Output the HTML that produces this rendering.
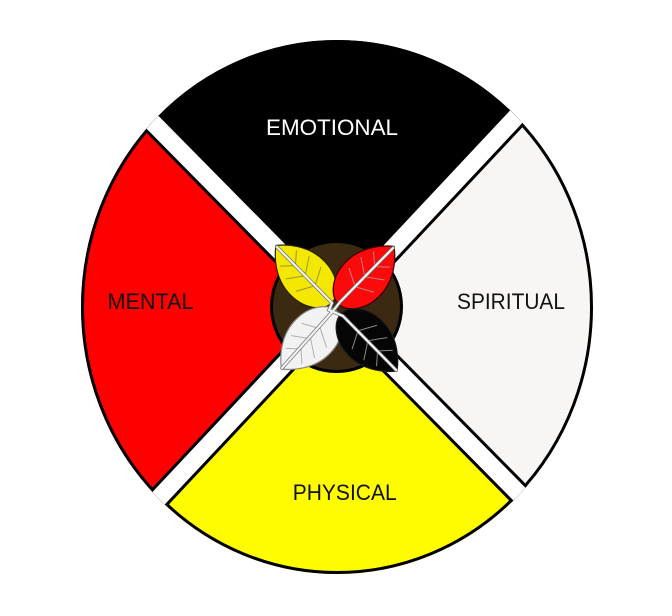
<!DOCTYPE html>
<html>
<head>
<meta charset="utf-8">
<style>
  html, body { margin: 0; padding: 0; background: #ffffff; overflow: hidden; }
  body { width: 672px; height: 616px; overflow: hidden; }
  svg { display: block; overflow: hidden; }
  text { font-family: "Liberation Sans", "DejaVu Sans", sans-serif; font-size: 22px; }
</style>
</head>
<body>
<svg width="672" height="616" viewBox="0 0 672 616" xmlns="http://www.w3.org/2000/svg">
  <defs>
    <clipPath id="wheel">
      <ellipse cx="337" cy="307" rx="256" ry="267"/>
    </clipPath>
    <g id="veins">
      <path d="M0,28 L-11,18 M0,42 L-16,31 M0,56 L-17,47 M0,28 L11,18 M0,42 L16,31 M0,56 L17,47" fill="none" stroke-width="1" stroke-linecap="round"/>
    </g>
  </defs>

  <rect width="672" height="616" fill="#ffffff"/>

  <!-- Quadrant fills -->
  <g clip-path="url(#wheel)">
    <polygon points="336.5,308.5 60,28.5 60,0 612,0 612,14.5" fill="#000000"/>
    <polygon points="336.5,308.5 60,28.5 60,603.5" fill="#fe0000"/>
    <polygon points="336.5,308.5 60,603.5 60,612 612,612 612,588" fill="#fffc00"/>
    <polygon points="336.5,308.5 612,588 612,14.5" fill="#f7f6f4"/>
  </g>
  <!-- Outer outline -->
  <ellipse cx="337" cy="307" rx="254.5" ry="265.5" fill="none" stroke="#000" stroke-width="3"/>

  <!-- Diagonal gap bands -->
  <g clip-path="url(#wheel)">
    <line x1="60" y1="28.5" x2="612" y2="588" stroke="#000" stroke-width="23.5"/>
    <line x1="612" y1="14.5" x2="70" y2="592.8" stroke="#000" stroke-width="23.5"/>
    <line x1="60" y1="28.5" x2="612" y2="588" stroke="#ffffff" stroke-width="17.5"/>
    <line x1="612" y1="14.5" x2="70" y2="592.8" stroke="#ffffff" stroke-width="17.5"/>
  </g>

  <!-- Labels -->
  <text x="332" y="135" text-anchor="middle" fill="#ffffff" textLength="132" lengthAdjust="spacingAndGlyphs">EMOTIONAL</text>
  <text x="150.5" y="309" text-anchor="middle" fill="#111111" textLength="86" lengthAdjust="spacingAndGlyphs">MENTAL</text>
  <text x="511" y="309" text-anchor="middle" fill="#111111" textLength="108" lengthAdjust="spacingAndGlyphs">SPIRITUAL</text>
  <text x="344.7" y="500" text-anchor="middle" fill="#111111" textLength="104" lengthAdjust="spacingAndGlyphs">PHYSICAL</text>

  <!-- Central circle -->
  <circle cx="336.5" cy="306.5" r="65" fill="#3b2a11" stroke="#000" stroke-width="3"/>

  <!-- Leaves -->
  <g transform="translate(276,245.5) rotate(-44)">
    <path d="M0,0 C8,6 24,22 24,45 C24,65 12,80 0,80 C-12,80 -24,65 -24,45 C-24,22 -8,6 0,0 Z" fill="#f4e800" stroke="#2a2000" stroke-width="1.2"/>
    <use href="#veins" stroke="#9a9440"/>
  </g>
  <g transform="translate(394,246.5) rotate(44)">
    <path d="M0,0 C8,6 24,22 24,45 C24,65 12,80 0,80 C-12,80 -24,65 -24,45 C-24,22 -8,6 0,0 Z" fill="#fa0a0a" stroke="#3a0000" stroke-width="1.2"/>
    <use href="#veins" stroke="#c98080"/>
  </g>
  <g transform="translate(281.5,369) rotate(-136)">
    <path d="M0,0 C8,6 24,22 24,45 C24,65 12,80 0,80 C-12,80 -24,65 -24,45 C-24,22 -8,6 0,0 Z" fill="#f2f2f2" stroke="#8a8a8a" stroke-width="1.2"/>
    <use href="#veins" stroke="#b0b0b0"/>
  </g>
  <g transform="translate(397,371) rotate(136)">
    <path d="M0,0 C8,6 24,22 24,45 C24,65 12,80 0,80 C-12,80 -24,65 -24,45 C-24,22 -8,6 0,0 Z" fill="#050505" stroke="#1a1a1a" stroke-width="1.2"/>
    <use href="#veins" stroke="#8a8a8a"/>
  </g>

  <!-- Stems / midribs -->
  <g fill="none" stroke-linejoin="miter" stroke-linecap="round">
    <polyline points="277,247 332,303 329,310 343,316 396,370" stroke="#6e6e6e" stroke-width="3.6"/>
    <polyline points="393,248 340,302 333,311 282,368" stroke="#6e6e6e" stroke-width="3.6"/>
    <polyline points="277,247 332,303 329,310 343,316 396,370" stroke="#f4f4f4" stroke-width="2.2"/>
    <polyline points="393,248 340,302 333,311 282,368" stroke="#f4f4f4" stroke-width="2.2"/>
  </g>
</svg>
</body>
</html>
